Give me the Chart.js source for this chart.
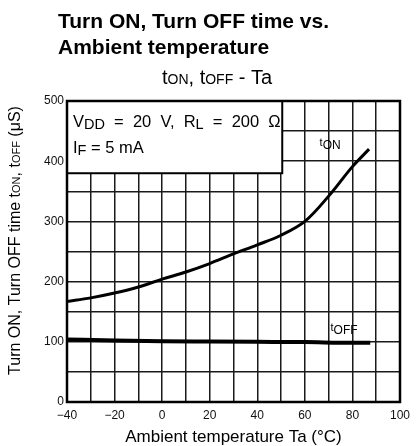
<!DOCTYPE html>
<html>
<head>
<meta charset="utf-8">
<script src="https://cdn.jsdelivr.net/npm/chart.js@4"></script>
<style>
  html, body { margin: 0; padding: 0; background: #fff; }
  #wrap { width: 416px; height: 446px; }
</style>
</head>
<body>
<div id="wrap"><canvas id="c" width="416" height="446"></canvas></div>
<script>
// ---- data ----
const tempsOn = [-40, -30, -20, -10, 0, 10, 20, 30, 40, 50, 60, 70, 80, 87];
const tOnValues = [167, 173, 181, 191, 204, 216, 230, 246, 261, 277, 300, 342, 391, 420];
const tempsOff = [-40, -20, 0, 20, 40, 60, 80, 87.5];
const tOffValues = [104, 102, 101, 100.5, 100, 99.5, 98.5, 98.5];
const xTickValues = [-40, -20, 0, 20, 40, 60, 80, 100];
const xTickLabels = ['\u221240', '\u221220', '0', '20', '40', '60', '80', '100'];
const yTickValues = [0, 100, 200, 300, 400, 500];
const yTickLabels = ['0', '100', '200', '300', '400', '500'];

const FONT = '"Liberation Sans", Arial, sans-serif';

function toPoints(xs, ys) { return xs.map((x, i) => ({ x: x, y: ys[i] })); }

function setFont(ctx, size, bold) { ctx.font = (bold ? 'bold ' : '') + size + 'px ' + FONT; }
function runsWidth(ctx, parts) {
  let w = 0;
  for (const p of parts) { setFont(ctx, p.s, p.b); w += ctx.measureText(p.t).width; }
  return w;
}
function drawRuns(ctx, x, y, parts) {
  let cx = x;
  for (const p of parts) {
    setFont(ctx, p.s, p.b);
    ctx.fillText(p.t, cx, y + (p.dy || 0));
    cx += ctx.measureText(p.t).width;
  }
}

const decor = {
  id: 'decor',
  beforeDatasetsDraw(chart) {
    const ctx = chart.ctx, xs = chart.scales.x, ys = chart.scales.y;
    // condition box
    const l = xs.getPixelForValue(-40), r = xs.getPixelForValue(50.5);
    const t = ys.getPixelForValue(500), b = ys.getPixelForValue(380);
    ctx.save();
    ctx.fillStyle = '#fff';
    ctx.fillRect(l, t, r - l, b - t);
    ctx.strokeStyle = '#000';
    ctx.lineWidth = 2;
    ctx.strokeRect(l, t, r - l, b - t);
    ctx.fillStyle = '#000';
    ctx.textBaseline = 'alphabetic';
    ctx.textAlign = 'left';
    drawRuns(ctx, l + 6, t + 26, [
      { t: 'V', s: 16.5 }, { t: 'DD', s: 14.5, dy: 2 },
      { t: '  =  20  V,  R', s: 16.5 }, { t: 'L', s: 14.5, dy: 2 },
      { t: '  =  200  \u03A9', s: 16.5 }
    ]);
    drawRuns(ctx, l + 6, t + 52, [
      { t: 'I', s: 16.5 }, { t: 'F', s: 14.5, dy: 2 }, { t: ' = 5 mA', s: 16.5 }
    ]);
    ctx.restore();
  },
  afterDraw(chart) {
    const ctx = chart.ctx, a = chart.chartArea, xs = chart.scales.x, ys = chart.scales.y;
    ctx.save();
    // frame
    ctx.strokeStyle = '#000';
    ctx.lineWidth = 2.5;
    ctx.strokeRect(a.left, a.top, a.right - a.left, a.bottom - a.top);
    ctx.fillStyle = '#000';
    ctx.textAlign = 'left';
    ctx.textBaseline = 'alphabetic';
    // curve labels
    drawRuns(ctx, xs.getPixelForValue(66.2), ys.getPixelForValue(420), [
      { t: 't', s: 11, dy: -3 }, { t: 'ON', s: 12 }
    ]);
    drawRuns(ctx, xs.getPixelForValue(70.8), ys.getPixelForValue(113), [
      { t: 't', s: 11, dy: -3 }, { t: 'OFF', s: 12 }
    ]);
    // title
    setFont(ctx, 21, true);
    ctx.fillText('Turn ON, Turn OFF time vs.', 58, 28);
    ctx.fillText('Ambient temperature', 58, 54);
    // subtitle
    drawRuns(ctx, 162, 84, [
      { t: 't', s: 20 }, { t: 'ON', s: 14 }, { t: ', t', s: 20 }, { t: 'OFF', s: 14 }, { t: ' - Ta', s: 20 }
    ]);
    // x axis title
    const xt = [{ t: 'Ambient temperature Ta (\u00B0C)', s: 17 }];
    const xw = runsWidth(ctx, xt);
    drawRuns(ctx, (a.left + a.right) / 2 - xw / 2, 442, xt);
    // y axis title
    const yt = [
      { t: 'Turn ON, Turn OFF time t', s: 16 }, { t: 'ON', s: 11 },
      { t: ', t', s: 16 }, { t: 'OFF', s: 11 }, { t: ' (\u03BCS)', s: 16 }
    ];
    const yw = runsWidth(ctx, yt);
    ctx.translate(20, (a.top + a.bottom) / 2 - 11);
    ctx.rotate(-Math.PI / 2);
    drawRuns(ctx, -yw / 2, 0, yt);
    ctx.restore();
  }
};

const gridColor = '#1a1a1a';

new Chart(document.getElementById('c'), {
  type: 'line',
  data: {
    datasets: [
      {
        label: 'tON',
        data: toPoints(tempsOn, tOnValues),
        borderColor: '#000',
        borderWidth: 3,
        pointRadius: 0,
        tension: 0.35,
        fill: false
      },
      {
        label: 'tOFF',
        data: toPoints(tempsOff, tOffValues),
        borderColor: '#000',
        borderWidth: 4,
        pointRadius: 0,
        cubicInterpolationMode: 'monotone',
        fill: false
      }
    ]
  },
  options: {
    responsive: false,
    devicePixelRatio: 1,
    animation: false,
    layout: { padding: { left: 37, right: 13, top: 101, bottom: 24 } },
    plugins: { legend: { display: false }, tooltip: { enabled: false }, title: { display: false } },
    scales: {
      x: {
        type: 'linear',
        min: -40, max: 100,
        afterFit(s) { s.height = 20; },
        ticks: {
          stepSize: 10,
          autoSkip: false,
          maxRotation: 0,
          padding: 6,
          color: '#111',
          font: { family: FONT, size: 12 },
          callback(v) { const i = xTickValues.indexOf(v); return i >= 0 ? xTickLabels[i] : ''; }
        },
        grid: { color: gridColor, lineWidth: 1.5, drawTicks: false },
        border: { display: false }
      },
      y: {
        type: 'linear',
        min: 0, max: 500,
        afterFit(s) { s.width = 30; },
        ticks: {
          stepSize: 50,
          autoSkip: false,
          padding: 3,
          color: '#111',
          font: { family: FONT, size: 12 },
          callback(v) { const i = yTickValues.indexOf(v); return i >= 0 ? yTickLabels[i] : ''; }
        },
        grid: { color: gridColor, lineWidth: 1.5, drawTicks: false },
        border: { display: false }
      }
    }
  },
  plugins: [decor]
});
</script>
</body>
</html>
